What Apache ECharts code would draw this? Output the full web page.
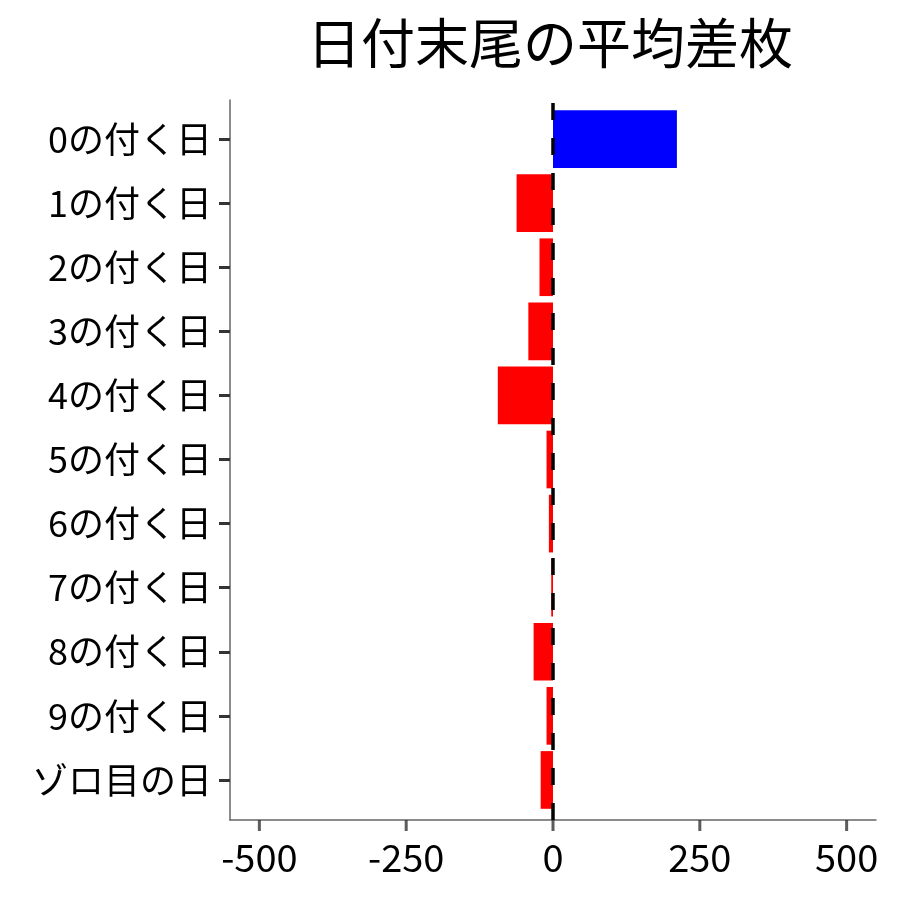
<!DOCTYPE html>
<html>
<head>
<meta charset="utf-8">
<script src="https://cdn.jsdelivr.net/npm/echarts@6/dist/echarts.min.js"></script>
<style>
  html, body { margin: 0; padding: 0; background: #fff; }
  #chart { width: 900px; height: 900px; }
</style>
</head>
<body>
<div id="chart"></div>
<script>
// data
const categories = ['0の付く日', '1の付く日', '2の付く日', '3の付く日', '4の付く日', '5の付く日',
  '6の付く日', '7の付く日', '8の付く日', '9の付く日', 'ゾロ目の日'];
const avgDiff = [211, -62, -23, -42, -94, -11, -7, -3, -33, -11, -21];
const xTicks = [-500, -250, 0, 250, 500];

const FONT = '"Noto Sans CJK JP", "Noto Sans", sans-serif';

const chart = echarts.init(document.getElementById('chart'));

const option = {
  backgroundColor: '#fff',
  animation: false,
  title: {
    text: '日付末尾の平均差枚',
    left: 545,
    top: 11,
    textAlign: 'center',
    textStyle: { fontFamily: FONT, fontSize: 54, fontWeight: 'normal', color: '#000' }
  },
  grid: [
    // frame: axis lines, x labels (-550..550)
    { left: 230, right: 24, top: 100, bottom: 80 },
    // bars
    { left: 230, right: 24, top: 107, bottom: 88 }
  ],
  xAxis: [
    {
      gridIndex: 0,
      type: 'value',
      min: -550,
      max: 550,
      axisLine: { show: true, onZero: false, lineStyle: { color: '#666', width: 1.5 } },
      axisTick: { show: false },
      axisLabel: {
        customValues: xTicks,
        margin: 19,
        fontFamily: FONT, fontSize: 38, color: '#000'
      },
      splitLine: { show: false }
    },
    {
      gridIndex: 1,
      type: 'value',
      min: -550,
      max: 550,
      show: false
    }
  ],
  yAxis: [
    {
      gridIndex: 0,
      type: 'value',
      min: 0,
      max: 1,
      axisLine: { show: true, onZero: false, lineStyle: { color: '#666', width: 1.5 } },
      axisTick: { show: false },
      axisLabel: { show: false },
      splitLine: { show: false }
    },
    {
      gridIndex: 1,
      type: 'category',
      data: categories,
      inverse: true,
      axisLine: { show: false, onZero: false },
      axisTick: { show: true, alignWithLabel: true, length: 11, lineStyle: { color: '#333', width: 3 } },
      axisLabel: { margin: 18, fontFamily: FONT, fontSize: 36, color: '#000' }
    }
  ],
  series: [
    {
      type: 'bar',
      xAxisIndex: 1,
      yAxisIndex: 1,
      barCategoryGap: '10%',
      data: avgDiff.map(v => ({
        value: v,
        itemStyle: { color: v >= 0 ? '#0000ff' : '#ff0000' }
      }))
    },
    {
      // x tick marks below the axis line
      type: 'scatter',
      xAxisIndex: 0,
      yAxisIndex: 0,
      silent: true,
      clip: false,
      symbol: 'rect',
      symbolSize: [3, 11],
      symbolOffset: [0, 5.5],
      itemStyle: { color: '#333' },
      data: xTicks.map(v => [v, 0])
    },
    {
      type: 'line',
      xAxisIndex: 0,
      yAxisIndex: 0,
      data: [],
      z: 10,
      markLine: {
        silent: true,
        symbol: 'none',
        label: { show: false },
        lineStyle: { color: '#000', width: 3.5, type: [17, 18] },
        data: [{ xAxis: 0 }]
      }
    }
  ]
};

chart.setOption(option);
</script>
</body>
</html>
